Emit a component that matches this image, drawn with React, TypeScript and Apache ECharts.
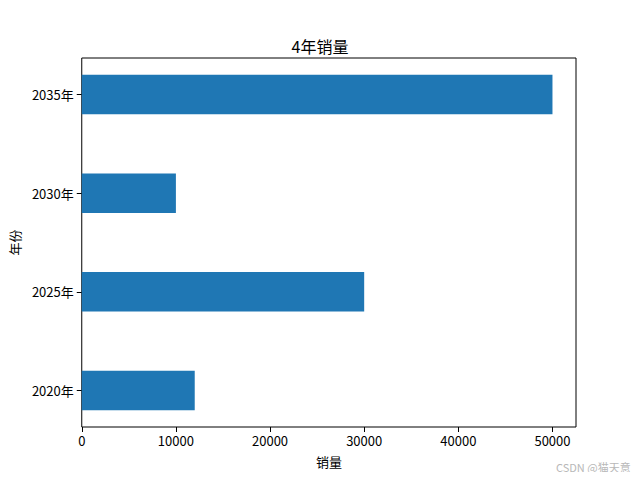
import React, { useEffect, useRef } from "react";
import * as echarts from "echarts";

const categories = ["2020年", "2025年", "2030年", "2035年"];
const sales = [12000, 30000, 10000, 50000];
const xTicks = [0, 10000, 20000, 30000, 40000, 50000];
const yTicks = [0, 1, 2, 3];

const FONT = "'Noto Sans CJK SC', 'DejaVu Sans', sans-serif";

export default function App() {
  const ref = useRef<HTMLDivElement>(null);
  useEffect(() => {
    if (!ref.current) return;
    const chart = echarts.init(ref.current, null, { renderer: "svg" });
    const data = sales.map((v, i) => [v, i]);
    chart.setOption({
      animation: false,
      backgroundColor: "#ffffff",
      title: {
        text: "4年销量",
        left: "center",
        top: 33,
        textStyle: { fontFamily: FONT, fontSize: 16, fontWeight: "normal", color: "#000" },
      },
      grid: {
        left: 80,
        right: 64,
        top: 58,
        bottom: 53,
        show: true,
        borderColor: "#000",
        borderWidth: 1,
        backgroundColor: "transparent",
      },
      xAxis: {
        type: "value",
        min: 0,
        max: 52500,
        name: "销量",
        nameLocation: "middle",
        nameGap: 28,
        nameTextStyle: { fontFamily: FONT, fontSize: 13, color: "#000" },
        splitLine: { show: false },
        axisLine: { show: false, onZero: false },
        axisTick: { show: true, length: 5, lineStyle: { color: "#000" }, customValues: xTicks },
        axisLabel: {
          customValues: xTicks,
          margin: 7,
          fontFamily: FONT,
          fontSize: 13,
          color: "#000",
          formatter: (v: number) => String(v),
        },
      },
      yAxis: {
        type: "value",
        min: -0.37,
        max: 3.37,
        name: "年份",
        nameLocation: "middle",
        nameGap: 60,
        nameRotate: 90,
        nameTextStyle: { fontFamily: FONT, fontSize: 13, color: "#000" },
        splitLine: { show: false },
        axisLine: { show: false, onZero: false },
        axisTick: { show: true, length: 5, lineStyle: { color: "#000" }, customValues: yTicks },
        axisLabel: {
          customValues: yTicks,
          margin: 8,
          fontFamily: FONT,
          fontSize: 13,
          color: "#000",
          formatter: (v: number) => categories[Math.round(v)] ?? "",
        },
      },
      series: [
        {
          type: "custom",
          data,
          encode: { x: 0, y: 1 },
          renderItem: (params: any, api: any) => {
            const v = api.value(0);
            const i = api.value(1);
            const p0 = api.coord([0, i + 0.2]);
            const p1 = api.coord([v, i - 0.2]);
            return {
              type: "rect",
              shape: { x: p0[0], y: p0[1], width: p1[0] - p0[0], height: p1[1] - p0[1] },
              style: { fill: "#1f77b4" },
            };
          },
        },
      ],
      graphic: [
        {
          type: "text",
          left: 556,
          top: 461,
          style: {
            text: "CSDN @猫天意",
            fontFamily: FONT,
            fontSize: 11,
            fill: "#b8b8b8",
          },
        },
      ],
    });
    return () => chart.dispose();
  }, []);
  return <div ref={ref} style={{ width: 640, height: 480, margin: -8 }} />;
}
